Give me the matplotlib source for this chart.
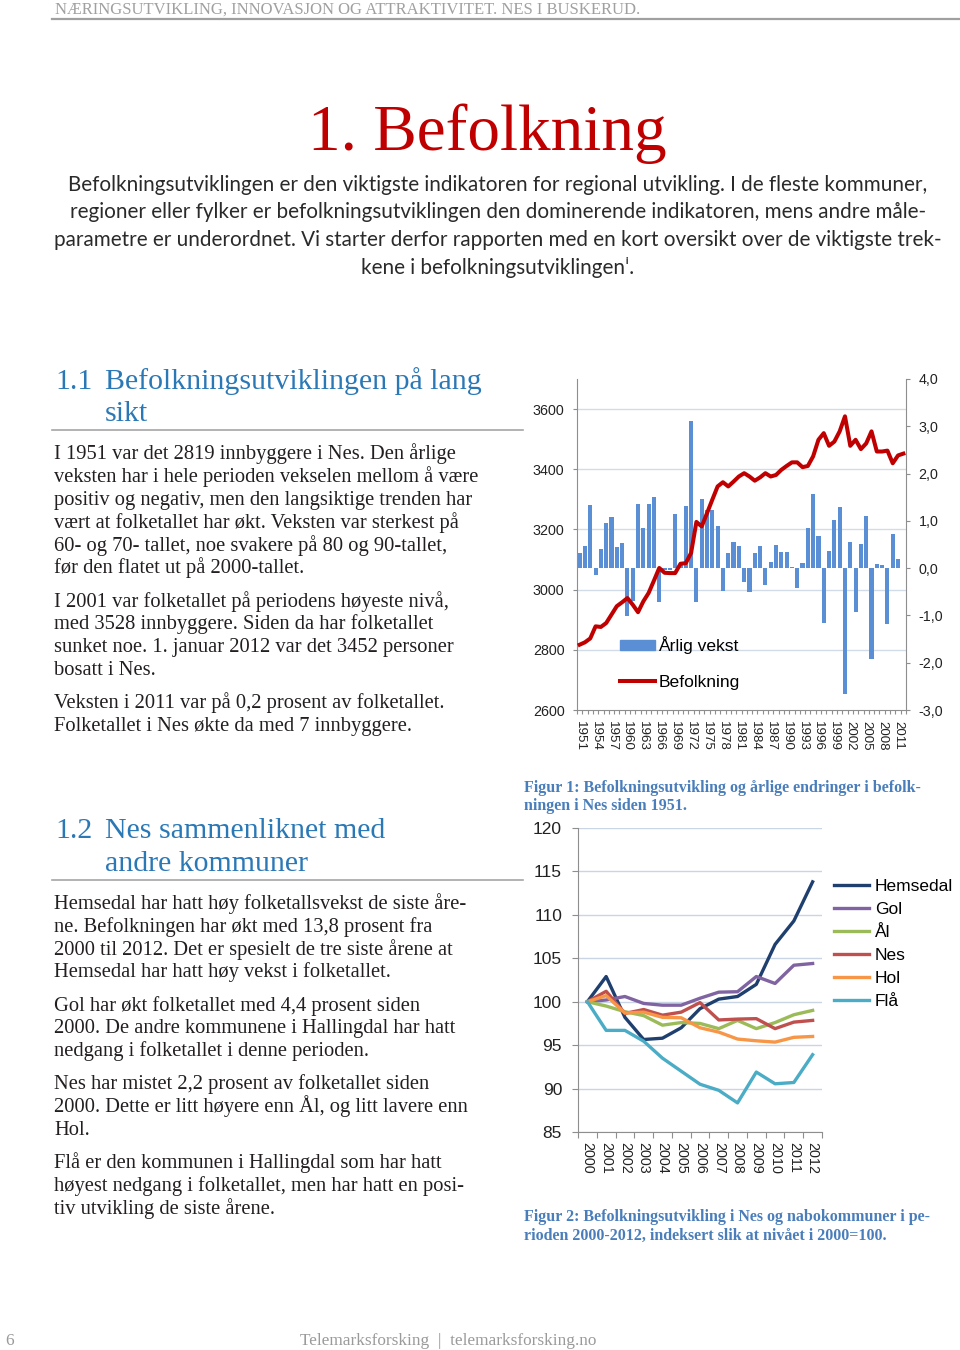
import numpy as np
import matplotlib
matplotlib.use("Agg")
import matplotlib.pyplot as plt
import matplotlib.transforms as mtransforms
from matplotlib.lines import Line2D
from matplotlib.patches import Patch

# --- data: figur 1 (Nes 1951-2012) ---
years = list(range(1951, 2013))
population = [2817, 2825, 2838, 2878, 2876, 2889, 2917, 2945, 2958, 2972,
              2950, 2925, 2961, 2989, 3030, 3072, 3056, 3055, 3055, 3086,
              3088, 3122, 3225, 3210, 3254, 3299, 3343, 3357, 3343, 3359,
              3376, 3387, 3376, 3362, 3373, 3387, 3376, 3381, 3398, 3411,
              3423, 3423, 3407, 3411, 3443, 3498, 3520, 3478, 3492, 3526,
              3576, 3478, 3498, 3467, 3486, 3526, 3459, 3459, 3462, 3420,
              3446, 3452]
# annual growth (%), 1951-2011
growth = [0.32, 0.46, 1.33, -0.14, 0.41, 0.96, 1.09, 0.44, 0.53, -1.01,
          -0.70, 1.35, 0.84, 1.35, 1.51, -0.72, -0.03, -0.03, 1.14, 0.07,
          1.32, 3.12, -0.72, 1.46, 1.24, 1.23, 0.89, -0.48, 0.32, 0.56,
          0.47, -0.30, -0.51, 0.32, 0.47, -0.35, 0.13, 0.50, 0.35, 0.35,
          0.02, -0.41, 0.11, 0.85, 1.56, 0.68, -1.16, 0.37, 1.02, 1.30,
          -2.67, 0.56, -0.92, 0.51, 1.11, -1.92, 0.08, 0.06, -1.18, 0.73,
          0.20]
pop_ticks = [2600, 2800, 3000, 3200, 3400, 3600]
growth_ticks = [-3, -2, -1, 0, 1, 2, 3, 4]

# --- data: figur 2 (index 2000=100) ---
idx_years = list(range(2000, 2013))
hemsedal = [100, 102.9, 98.2, 95.65, 95.8, 97.0, 99.2, 100.3, 100.6, 102.0, 106.6, 109.3, 113.8]
gol = [100, 100.2, 100.6, 99.8, 99.6, 99.6, 100.4, 101.1, 101.15, 102.9, 102.1, 104.2, 104.4]
aal = [100, 99.5, 98.85, 98.4, 97.3, 97.6, 97.5, 96.9, 97.85, 96.9, 97.6, 98.5, 99.0]
nes = [100, 101.2, 98.65, 99.1, 98.45, 98.8, 99.9, 97.9, 98.0, 98.05, 96.9, 97.65, 97.85]
hol = [100, 100.7, 98.7, 98.8, 98.2, 98.15, 97.0, 96.5, 95.7, 95.5, 95.35, 95.9, 96.0]
flaa = [100, 96.7, 96.7, 95.45, 93.5, 92.0, 90.5, 89.8, 88.35, 91.9, 90.55, 90.7, 93.9]
kommuner = ["Hemsedal", "Gol", "Ål", "Nes", "Hol", "Flå"]
kommune_colors = ["#1F3F6E", "#8064A2", "#9BBB59", "#C0504D", "#F79646", "#4BACC6"]
idx_ticks = [85, 90, 95, 100, 105, 110, 115, 120]

W, H = 960, 1350
SERIF = ["Liberation Serif", "DejaVu Serif"]
SANS = ["Liberation Sans", "DejaVu Sans"]
plt.rcParams["font.family"] = SANS

BODY = "#231F20"
HEAD_BLUE = "#2A78B6"
CAP_BLUE = "#4A7EBB"


def fx(x):
    return x / W


def fy(y):
    return 1 - y / H


fig = plt.figure(figsize=(W / 100, H / 100), dpi=100)


def put(x, y, s, **kw):
    kw.setdefault("va", "baseline")
    fig.text(fx(x), fy(y), s, **kw)


def hline(y, x0, x1, color="#A6A6A6", lw=1.2):
    fig.add_artist(Line2D([fx(x0), fx(x1)], [fy(y), fy(y)], color=color, lw=lw,
                          transform=fig.transFigure))


# page header
put(55, 14, "NÆRINGSUTVIKLING, INNOVASJON OG ATTRAKTIVITET. NES I BUSKERUD.",
    family=SERIF, fontsize=12, color="#A0A0A0")
hline(19, 52, 960, color="#A0A0A0", lw=1.6)

put(487, 150, "1. Befolkning", family=SERIF, fontsize=47, color="#C00000", ha="center")

intro = [
    "Befolkningsutviklingen er den viktigste indikatoren for regional utvikling. I de fleste kommuner,",
    "regioner eller fylker er befolkningsutviklingen den dominerende indikatoren, mens andre måle-",
    "parametre er underordnet. Vi starter derfor rapporten med en kort oversikt over de viktigste trek-",
    "kene i befolkningsutviklingenⁱ.",
]
for i, line in enumerate(intro):
    put(498, 191 + i * 27.5, line, family=["Lato", "DejaVu Sans"], fontsize=14.9,
        color="#2A2A2A", ha="center")

# section 1.1
put(55, 389, "1.1", family=SERIF, fontsize=21.5, color=HEAD_BLUE)
put(105, 389, "Befolkningsutviklingen på lang", family=SERIF, fontsize=21.5, color=HEAD_BLUE)
put(105, 421, "sikt", family=SERIF, fontsize=21.5, color=HEAD_BLUE)
hline(430, 52, 523)

para1 = [
    (459, "I 1951 var det 2819 innbyggere i Nes. Den årlige"),
    (482, "veksten har i hele perioden vekselen mellom å være"),
    (505, "positiv og negativ, men den langsiktige trenden har"),
    (528, "vært at folketallet har økt. Veksten var sterkest på"),
    (551, "60- og 70- tallet, noe svakere på 80 og 90-tallet,"),
    (573, "før den flatet ut på 2000-tallet."),
    (607, "I 2001 var folketallet på periodens høyeste nivå,"),
    (629, "med 3528 innbyggere. Siden da har folketallet"),
    (652, "sunket noe. 1. januar 2012 var det 3452 personer"),
    (675, "bosatt i Nes."),
    (708, "Veksten i 2011 var på 0,2 prosent av folketallet."),
    (731, "Folketallet i Nes økte da med 7 innbyggere."),
]
for y, line in para1:
    put(54, y, line, family=SERIF, fontsize=14.8, color=BODY)

# section 1.2
put(55, 838, "1.2", family=SERIF, fontsize=21.5, color=HEAD_BLUE)
put(105, 838, "Nes sammenliknet med", family=SERIF, fontsize=21.5, color=HEAD_BLUE)
put(105, 871, "andre kommuner", family=SERIF, fontsize=21.5, color=HEAD_BLUE)
hline(880, 52, 523)

para2 = [
    (909, "Hemsedal har hatt høy folketallsvekst de siste åre-"),
    (932, "ne. Befolkningen har økt med 13,8 prosent fra"),
    (955, "2000 til 2012. Det er spesielt de tre siste årene at"),
    (977, "Hemsedal har hatt høy vekst i folketallet."),
    (1011, "Gol har økt folketallet med 4,4 prosent siden"),
    (1033, "2000. De andre kommunene i Hallingdal har hatt"),
    (1056, "nedgang i folketallet i denne perioden."),
    (1089, "Nes har mistet 2,2 prosent av folketallet siden"),
    (1112, "2000. Dette er litt høyere enn Ål, og litt lavere enn"),
    (1135, "Hol."),
    (1168, "Flå er den kommunen i Hallingdal som har hatt"),
    (1191, "høyest nedgang i folketallet, men har hatt en posi-"),
    (1214, "tiv utvikling de siste årene."),
]
for y, line in para2:
    put(54, y, line, family=SERIF, fontsize=14.8, color=BODY)

# captions
cap = dict(family=SERIF, fontsize=11.5, color=CAP_BLUE, weight="bold")
put(524, 792, "Figur 1: Befolkningsutvikling og årlige endringer i befolk-", **cap)
put(524, 810, "ningen i Nes siden 1951.", **cap)
put(524, 1221, "Figur 2: Befolkningsutvikling i Nes og nabokommuner i pe-", **cap)
put(524, 1240, "rioden 2000-2012, indeksert slik at nivået i 2000=100.", **cap)

# footer
put(5, 1345, "6", family=SERIF, fontsize=12.4, color="#9A9A9A")
put(448, 1345, "Telemarksforsking  |  telemarksforsking.no", family=SERIF,
    fontsize=12.4, color="#9A9A9A", ha="center")

# ---------------- figur 1 ----------------
ax_bar = fig.add_axes([fx(577), fy(710), (906 - 577) / W, (710 - 379) / H])
ax_pop = ax_bar.twinx()
ax_bar.yaxis.tick_right()
ax_pop.yaxis.tick_left()

x = np.arange(len(years))
ax_bar.bar(x[:len(growth)], growth, width=0.78, color="#5B8FD5", zorder=2)
ax_bar.set_xlim(-0.5, len(years) - 0.5)
ax_bar.set_ylim(-3, 4)
ax_pop.set_ylim(2600, 3700)
ax_pop.plot(x, population, color="#C00000", lw=2.9, solid_joinstyle="round", zorder=3)

grid_tr = mtransforms.blended_transform_factory(ax_bar.transAxes, ax_pop.transData)
for v in pop_ticks[1:]:
    ax_bar.plot([0, 1], [v, v], transform=grid_tr, color="#D2DCE9", lw=1.0, zorder=0.5)

ax_bar.set_yticks(growth_ticks)
ax_bar.set_yticklabels([f"{v:.1f}".replace(".", ",") for v in growth_ticks])
ax_pop.set_yticks(pop_ticks)
ax_pop.set_yticklabels([str(v) for v in pop_ticks])
for a in (ax_bar, ax_pop):
    a.tick_params(axis="y", labelsize=10.3, labelcolor="#222222", color="#8E8E8E",
                  length=3, width=0.8, pad=6)
    for s in a.spines.values():
        s.set_color("#8E8E8E")
ax_bar.spines["left"].set_visible(False)
ax_bar.spines["top"].set_visible(False)
for s in ("right", "top", "bottom"):
    ax_pop.spines[s].set_visible(False)

ax_bar.set_xticks(x[::3])
ax_bar.set_xticklabels([str(y) for y in years[::3]], rotation=270, fontsize=9.6,
                       color="#222222", va="top", ha="center")
ax_bar.set_xticks(np.arange(-0.5, len(years), 1), minor=True)
ax_bar.tick_params(axis="x", which="major", length=0, pad=8)
ax_bar.tick_params(axis="x", which="minor", length=3, width=0.8, color="#8E8E8E")

fig.legend([Patch(color="#5B8FD5"), Line2D([], [], color="#C00000", lw=2.9)],
           ["Årlig vekst", "Befolkning"], loc="upper left",
           bbox_to_anchor=(fx(620), fy(636)), frameon=False, fontsize=12.6,
           handlelength=2.0, handleheight=0.5, handletextpad=0.2,
           labelspacing=1.2, borderpad=0, borderaxespad=0)

# ---------------- figur 2 ----------------
ax2 = fig.add_axes([fx(578), fy(1132), (822 - 578) / W, (1132 - 828) / H])
xi = np.arange(len(idx_years))
handles = []
for name, series, col in zip(kommuner, [hemsedal, gol, aal, nes, hol, flaa], kommune_colors):
    h, = ax2.plot(xi, series, color=col, lw=2.4, solid_joinstyle="round", label=name)
    handles.append(h)
ax2.set_xlim(-0.5, len(idx_years) - 0.5)
ax2.set_ylim(85, 120)
ax2.set_yticks(idx_ticks)
ax2.yaxis.grid(True, color="#C9D5E4", lw=1.0)
ax2.set_axisbelow(True)
ax2.tick_params(axis="y", labelsize=12.5, labelcolor="#222222", color="#8E8E8E",
                length=4.5, width=0.8, pad=7)
ax2.set_xticks(xi)
ax2.set_xticklabels([str(y) for y in idx_years], rotation=270, fontsize=10.4,
                    color="#222222", va="top", ha="center")
ax2.set_xticks(np.arange(-0.5, len(idx_years), 1), minor=True)
ax2.tick_params(axis="x", which="major", length=0, pad=7)
ax2.tick_params(axis="x", which="minor", length=4, width=0.8, color="#8E8E8E")
for s in ("top", "right"):
    ax2.spines[s].set_visible(False)
for s in ("left", "bottom"):
    ax2.spines[s].set_color("#8E8E8E")

fig.legend(handles, kommuner, loc="upper left", bbox_to_anchor=(fx(834), fy(879)),
           frameon=False, fontsize=12.5, handlelength=2.0, handletextpad=0.35,
           labelspacing=0.45, borderpad=0, borderaxespad=0)

fig.savefig("out.png", dpi=100)
